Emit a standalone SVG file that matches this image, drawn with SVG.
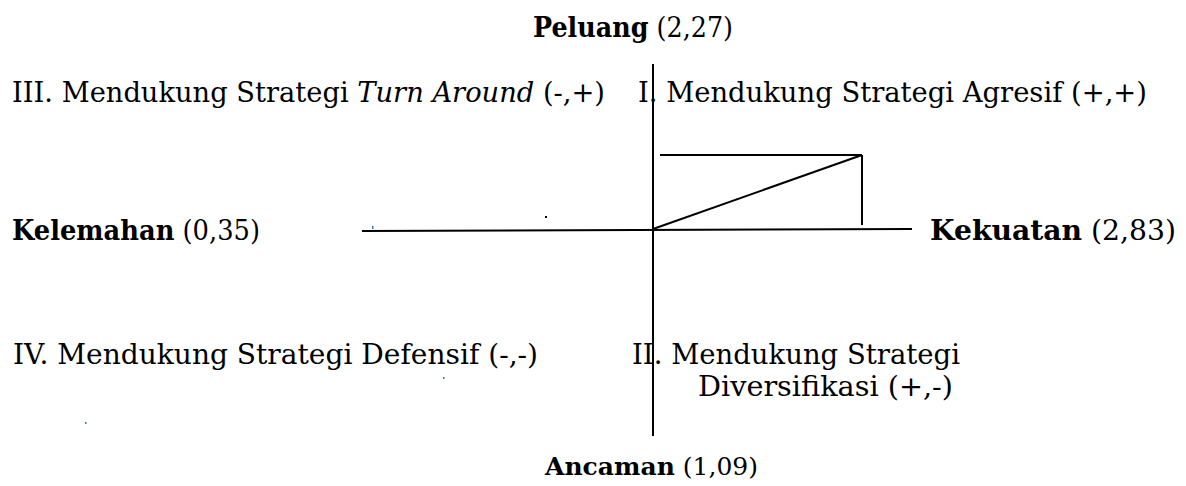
<svg xmlns="http://www.w3.org/2000/svg" width="1186" height="486" viewBox="0 0 1186 486">
<style>
text{font-family:"DejaVu Serif","Liberation Serif",serif;font-size:27px;fill:#000}
.b{font-weight:bold}
.i{font-style:italic}
.ln{stroke:#000;stroke-width:2;fill:none}
</style>
<rect width="1186" height="486" fill="#fff"/>
<g id="connectors">
<line class="ln" x1="653" y1="64" x2="653" y2="436"/>
<line class="ln" x1="362" y1="231" x2="912" y2="229"/>
<line class="ln" x1="660" y1="155" x2="862" y2="155"/>
<line class="ln" x1="862" y1="155" x2="862" y2="225"/>
<line class="ln" x1="653" y1="229" x2="862" y2="155"/>
</g>
<g id="peluang"><text x="533" y="37" textLength="200" lengthAdjust="spacingAndGlyphs"><tspan class="b">Peluang</tspan> (2,27)</text></g>
<g id="q3"><text x="12" y="102" textLength="593" lengthAdjust="spacingAndGlyphs">III. Mendukung Strategi <tspan class="i">Turn Around</tspan> (-,+)</text></g>
<g id="q1"><text x="638" y="102" textLength="509" lengthAdjust="spacingAndGlyphs">I. Mendukung Strategi Agresif (+,+)</text></g>
<g id="kelemahan"><text x="12" y="240" textLength="248" lengthAdjust="spacingAndGlyphs"><tspan class="b">Kelemahan</tspan> (0,35)</text></g>
<g id="kekuatan"><text x="930" y="240" textLength="246" lengthAdjust="spacingAndGlyphs"><tspan class="b">Kekuatan</tspan> (2,83)</text></g>
<g id="q4"><text x="13" y="364" textLength="525" lengthAdjust="spacingAndGlyphs">IV. Mendukung Strategi Defensif (-,-)</text></g>
<g id="q2"><text x="632" y="364" textLength="328" lengthAdjust="spacingAndGlyphs">II. Mendukung Strategi</text><text x="698" y="396" textLength="255" lengthAdjust="spacingAndGlyphs">Diversifikasi (+,-)</text></g>
<g id="ancaman"><text x="545" y="475" style="font-size:25px" textLength="213" lengthAdjust="spacingAndGlyphs"><tspan class="b">Ancaman</tspan> (1,09)</text></g>
<g id="marks" fill="#4472c4"><rect x="372" y="226" width="1.5" height="3"/><rect x="85" y="422" width="1.5" height="2"/><rect x="443" y="377" width="1.5" height="2"/></g>
<rect x="545" y="216" width="2" height="2" fill="#000"/>
</svg>
